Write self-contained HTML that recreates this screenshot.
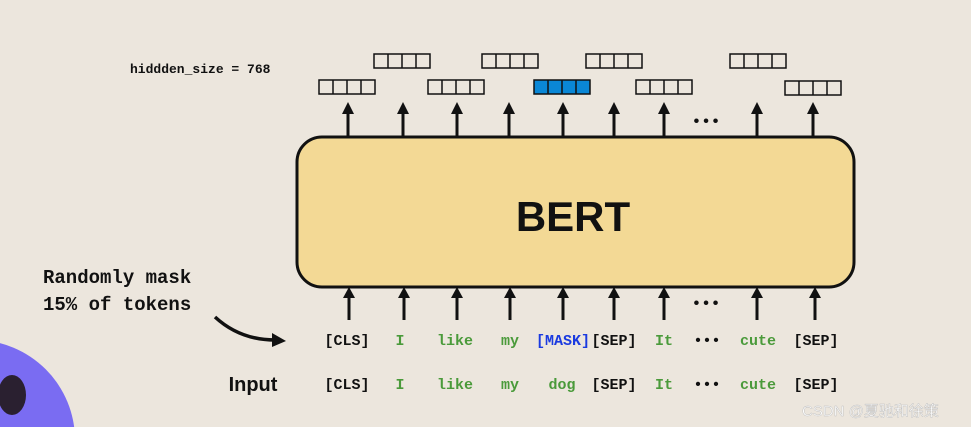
<!DOCTYPE html>
<html><head><meta charset="utf-8"><style>
html,body{margin:0;padding:0;background:#ece6dd;width:971px;height:427px;overflow:hidden;}
svg{display:block}
.m{font-family:"Liberation Mono","DejaVu Sans Mono",monospace;font-weight:bold}
</style></head><body>
<svg width="971" height="427" viewBox="0 0 971 427" xmlns="http://www.w3.org/2000/svg">
<defs>
<g id="v"><rect x="0" y="0" width="56" height="14" fill="none" stroke="#111" stroke-width="1.5"/><line x1="14" y1="0" x2="14" y2="14" stroke="#111" stroke-width="1.5"/><line x1="28" y1="0" x2="28" y2="14" stroke="#111" stroke-width="1.5"/><line x1="42" y1="0" x2="42" y2="14" stroke="#111" stroke-width="1.5"/></g>
</defs>
<rect width="971" height="427" fill="#ece6dd"/>
<circle cx="-25" cy="440" r="100" fill="#7a6cf2"/>
<ellipse cx="12" cy="395" rx="14" ry="20" fill="#2a2030"/>
<text x="130" y="73" class="m" font-size="13" fill="#111">hiddden_size = 768</text>
<use href="#v" x="374" y="54"/><use href="#v" x="482" y="54"/><use href="#v" x="586" y="54"/><use href="#v" x="730" y="54"/>
<use href="#v" x="319" y="80"/><use href="#v" x="428" y="80"/>
<rect x="534" y="80" width="56" height="14" fill="#0a87d6"/><use href="#v" x="534" y="80"/>
<use href="#v" x="636" y="80"/><use href="#v" x="785" y="81"/>
<g stroke="#111" stroke-width="3">
<line x1="348" y1="137" x2="348" y2="112"/><line x1="403" y1="137" x2="403" y2="112"/><line x1="457" y1="137" x2="457" y2="112"/><line x1="509" y1="137" x2="509" y2="112"/><line x1="563" y1="137" x2="563" y2="112"/><line x1="614" y1="137" x2="614" y2="112"/><line x1="664" y1="137" x2="664" y2="112"/><line x1="757" y1="137" x2="757" y2="112"/><line x1="813" y1="137" x2="813" y2="112"/>
</g>
<g fill="#111">
<path d="M342,114 L348,102 L354,114z"/><path d="M397,114 L403,102 L409,114z"/><path d="M451,114 L457,102 L463,114z"/><path d="M503,114 L509,102 L515,114z"/><path d="M557,114 L563,102 L569,114z"/><path d="M608,114 L614,102 L620,114z"/><path d="M658,114 L664,102 L670,114z"/><path d="M751,114 L757,102 L763,114z"/><path d="M807,114 L813,102 L819,114z"/>
</g>
<text x="706" y="126" class="m" font-size="16" fill="#111" text-anchor="middle">•••</text>
<rect x="297" y="137" width="557" height="150" rx="25" fill="#f3d995" stroke="#111" stroke-width="3"/>
<text x="573" y="231" font-family="'Liberation Sans',sans-serif" font-weight="bold" font-size="42" fill="#111" text-anchor="middle">BERT</text>
<g stroke="#111" stroke-width="3">
<line x1="349" y1="320" x2="349" y2="296"/><line x1="404" y1="320" x2="404" y2="296"/><line x1="457" y1="320" x2="457" y2="296"/><line x1="510" y1="320" x2="510" y2="296"/><line x1="563" y1="320" x2="563" y2="296"/><line x1="614" y1="320" x2="614" y2="296"/><line x1="664" y1="320" x2="664" y2="296"/><line x1="757" y1="320" x2="757" y2="296"/><line x1="815" y1="320" x2="815" y2="296"/>
</g>
<g fill="#111">
<path d="M343,298 L349,287 L355,298z"/><path d="M398,298 L404,287 L410,298z"/><path d="M451,298 L457,287 L463,298z"/><path d="M504,298 L510,287 L516,298z"/><path d="M557,298 L563,287 L569,298z"/><path d="M608,298 L614,287 L620,298z"/><path d="M658,298 L664,287 L670,298z"/><path d="M751,298 L757,287 L763,298z"/><path d="M809,298 L815,287 L821,298z"/>
</g>
<text x="706" y="308" class="m" font-size="16" fill="#111" text-anchor="middle">•••</text>
<text x="43" y="283" class="m" font-size="19" fill="#111">Randomly mask</text>
<text x="43" y="310" class="m" font-size="19" fill="#111">15% of tokens</text>
<path d="M215,317 Q240,340 275,340" fill="none" stroke="#111" stroke-width="3.5"/>
<path d="M272,333 L286,341 L272,347z" fill="#111"/>
<g class="m" font-size="15" text-anchor="middle">
<text x="347" y="345" fill="#111">[CLS]</text><text x="400" y="345" fill="#4a9a3a">I</text><text x="455" y="345" fill="#4a9a3a">like</text><text x="510" y="345" fill="#4a9a3a">my</text><text x="563" y="345" fill="#1a3ae0">[MASK]</text><text x="614" y="345" fill="#111">[SEP]</text><text x="664" y="345" fill="#4a9a3a">It</text><text x="707" y="345" fill="#111">•••</text><text x="758" y="345" fill="#4a9a3a">cute</text><text x="816" y="345" fill="#111">[SEP]</text>
<text x="347" y="389" fill="#111">[CLS]</text><text x="400" y="389" fill="#4a9a3a">I</text><text x="455" y="389" fill="#4a9a3a">like</text><text x="510" y="389" fill="#4a9a3a">my</text><text x="562" y="389" fill="#4a9a3a">dog</text><text x="614" y="389" fill="#111">[SEP]</text><text x="664" y="389" fill="#4a9a3a">It</text><text x="707" y="389" fill="#111">•••</text><text x="758" y="389" fill="#4a9a3a">cute</text><text x="816" y="389" fill="#111">[SEP]</text>
</g>
<text x="253" y="391" font-family="'Liberation Sans',sans-serif" font-weight="bold" font-size="20" fill="#111" text-anchor="middle">Input</text>
<text x="802" y="416" font-family="'Liberation Sans','Noto Sans CJK SC',sans-serif" font-size="15" fill="#fff" stroke="#bbb" stroke-width="0.4">CSDN @夏驰和徐策</text>
</svg>
</body></html>
